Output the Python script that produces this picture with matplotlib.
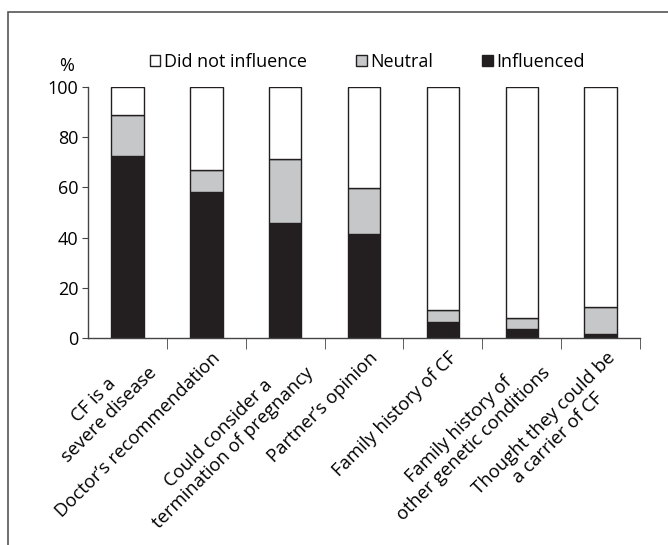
import matplotlib.pyplot as plt
import matplotlib.transforms as mtransforms
from matplotlib.patches import Patch, Rectangle
import numpy as np

plt.rcParams['font.family'] = ['Open Sans', 'DejaVu Sans']

categories = ["CF is a\nsevere disease", "Doctor\u2019s recommendation",
              "Could consider a\ntermination of pregnancy", "Partner\u2019s opinion",
              "Family history of CF", "Family history of\nother genetic conditions",
              "Thought they could be\na carrier of CF"]
influenced = [72.5, 58.0, 46.0, 41.3, 6.5, 3.7, 1.7]
neutral = [16.5, 9.0, 25.5, 18.5, 4.7, 4.4, 10.7]
did_not = [11.0, 33.0, 28.5, 40.2, 88.8, 91.9, 87.6]

black = '#231f20'
grey = '#c6c7c8'

fig = plt.figure(figsize=(6.68, 5.45), dpi=100)
ax = fig.add_axes([0.132, 0.380, 0.826, 0.460])

x = np.arange(len(categories))
w = 0.41
ax.bar(x, influenced, w, color=black, edgecolor=black, linewidth=1)
ax.bar(x, neutral, w, bottom=influenced, color=grey, edgecolor=black, linewidth=1)
bottom2 = np.array(influenced) + np.array(neutral)
ax.bar(x, did_not, w, bottom=bottom2, color='white', edgecolor=black, linewidth=1)

ax.set_xlim(-0.5, len(categories) - 0.5)
ax.set_ylim(0, 100)
ax.set_yticks([0, 20, 40, 60, 80, 100])
ax.spines['top'].set_visible(False)
ax.spines['right'].set_visible(False)
for s in ['left', 'bottom']:
    ax.spines[s].set_color('#444444')
    ax.spines[s].set_linewidth(1)

ax.set_xticks(x)
ax.set_xticklabels(categories, rotation=45, ha='right', rotation_mode='anchor',
                   multialignment='center', fontsize=13.3)
ax.tick_params(axis='x', which='major', length=0, pad=8)
ax.set_xticks(np.arange(len(categories)) + 0.5, minor=True)
ax.tick_params(axis='x', which='minor', length=8, direction='out', color='#444444')
ax.tick_params(axis='y', length=4, direction='out', color='#444444', labelsize=13, pad=3)

# nudge the rotated labels a little to the right
offset = mtransforms.ScaledTranslation(5 / 100, 0, fig.dpi_scale_trans)
for lab in ax.get_xticklabels():
    lab.set_transform(lab.get_transform() + offset)

ax.text(-0.04, 1.05, '%', transform=ax.transAxes, fontsize=13, ha='center', va='bottom')

handles = [Patch(facecolor='white', edgecolor=black, label='Did not influence'),
           Patch(facecolor=grey, edgecolor=black, label='Neutral'),
           Patch(facecolor=black, edgecolor=black, label='Influenced')]
ax.legend(handles=handles, ncol=3, frameon=False, loc='lower left',
          bbox_to_anchor=(0.095, 1.03), fontsize=13, handlelength=0.6, handleheight=0.6,
          handletextpad=0.2, columnspacing=2.7, borderpad=0)

fig.add_artist(Rectangle((8 / 668, -0.05), 1.0, 1 - 12 / 545 + 0.05,
                         transform=fig.transFigure, fill=False,
                         edgecolor='#555555', linewidth=1.2))

fig.savefig('out.png', dpi=100)
